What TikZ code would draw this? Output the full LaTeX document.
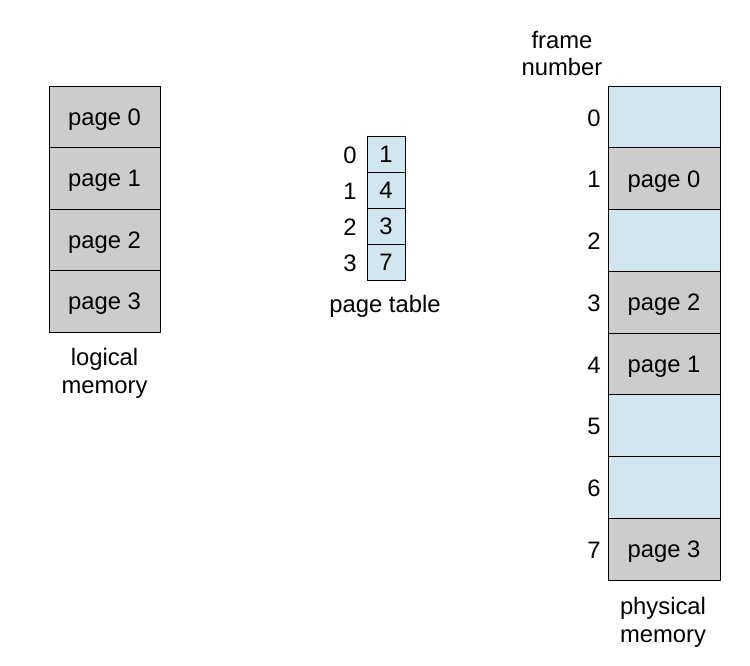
\documentclass[tikz,border=0pt]{standalone}
\usepackage{fontspec}
\setmainfont{Liberation Sans}
\begin{document}
\begin{tikzpicture}[x=1pt,y=-1pt,
  every node/.style={font=\fontsize{23.8}{28}\selectfont, inner sep=0pt},
  txt/.style={text height=17pt, text depth=0pt},
  gcell/.style={txt, draw=black, line width=0.8pt, fill=lgray, minimum width=111pt, minimum height=61.6pt},
  bcell/.style={txt, draw=black, line width=0.8pt, fill=lblue, minimum width=112pt, minimum height=61.75pt},
  tcell/.style={txt, draw=black, line width=0.8pt, fill=lblue, minimum width=38pt, minimum height=36pt},
  lbl/.style={align=center}]
\definecolor{lblue}{HTML}{D1E6EF}
\definecolor{lgray}{HTML}{CCCCCC}
\useasboundingbox (0,0) rectangle (750,665);
% logical memory
\foreach \i in {0,...,3} {
  \node[gcell] (l\i) at (104.5, {86+61.5*\i+30.75}) {page \i};
}
\node[lbl] (lm) at (104.5, 373.5) {logical\\memory};
% page table
\foreach \i/\v in {0/1,1/4,2/3,3/7} {
  \node[tcell] (t\i) at (386, {136+36*\i+18}) {\v};
  \node[txt] (ti\i) at (350, {136+36*\i+18.5}) {\i};
}
\node (pt) at (385, 306) {page table};
% physical memory
\foreach \i/\c/\t in {0/bcell/,1/gcell/page 0,2/bcell/,3/gcell/page 2,4/gcell/page 1,5/bcell/,6/bcell/,7/gcell/page 3} {
  \node[\c, minimum width=112pt, minimum height=61.75pt] (f\i) at (664, {86+61.75*\i+30.875}) {\t};
  \node[txt] (fn\i) at (594, {86+61.75*\i+31.5}) {\i};
}
\node[lbl] (fnum) at (562, 53.5) {frame\\number};
\node[lbl] (pm) at (663, 622.5) {physical\\memory};
\end{tikzpicture}
\end{document}
